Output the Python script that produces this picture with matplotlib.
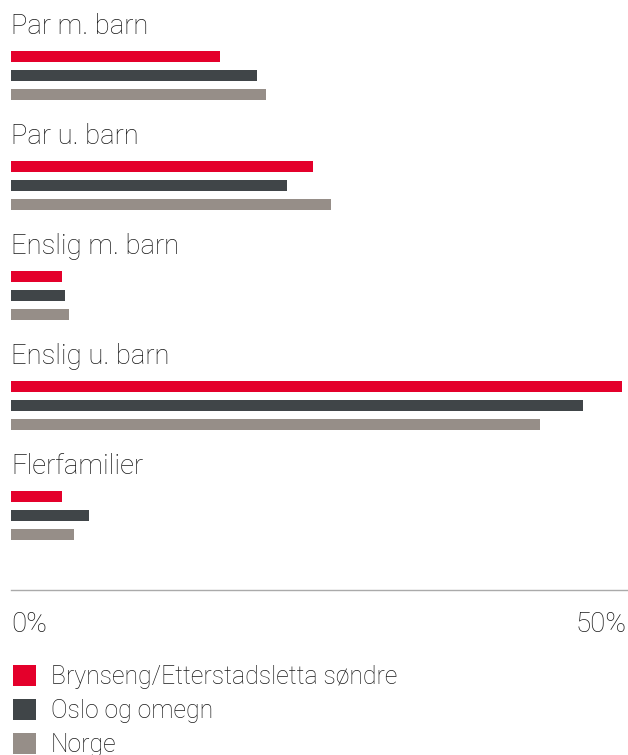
import numpy as np
import matplotlib
matplotlib.use("Agg")
from matplotlib import pyplot as plt
from matplotlib.patches import Patch
from matplotlib.transforms import blended_transform_factory

plt.rcParams["font.family"] = ["Roboto", "DejaVu Sans"]
plt.rcParams["font.weight"] = "light"

categories = ["Par m. barn", "Par u. barn", "Enslig m. barn", "Enslig u. barn", "Flerfamilier"]
series_names = ["Brynseng/Etterstadsletta søndre", "Oslo og omegn", "Norge"]
brynseng = [17.0, 24.5, 4.1, 49.6, 4.1]
oslo = [20.0, 22.4, 4.4, 46.4, 6.3]
norge = [20.7, 26.0, 4.7, 42.9, 5.1]
tick_values = [0, 50]
tick_labels = ["0%", "50%"]

colors = ["#e4002b", "#404548", "#968e88"]

W, H = 628, 755
fig = plt.figure(figsize=(W / 100, H / 100), dpi=100)
# axes from x=11..627 px, y=0..590 px (from top)
ax = fig.add_axes([11 / W, 1 - 590 / H, 616 / W, 590 / H])

group_step = 110.0
bar_h = 11.5
offsets = [56.5, 75.5, 94.5]
label_y = 34.0
y0 = np.arange(len(categories)) * group_step

for vals, off, c in zip([brynseng, oslo, norge], offsets, colors):
    ax.barh(y0 + off, vals, height=bar_h, color=c, left=0)

trans = blended_transform_factory(ax.transAxes, ax.transData)
for i, cat in enumerate(categories):
    ax.text(0, y0[i] + label_y, cat, transform=trans, fontsize=19.8,
            ha="left", va="baseline", color="#1a1a1a")

ax.set_xlim(0, 50)
ax.set_ylim(590, 0)
for s in ["top", "left", "right"]:
    ax.spines[s].set_visible(False)
ax.spines["bottom"].set_color("#aaaaaa")
ax.spines["bottom"].set_linewidth(1.0)
ax.set_yticks([])
ax.set_xticks(tick_values)
ax.set_xticklabels(tick_labels)
ax.tick_params(axis="x", length=0, pad=15, labelsize=20, labelcolor="#1a1a1a")
xl = ax.get_xticklabels()
xl[0].set_ha("left")
xl[-1].set_ha("right")

handles = [Patch(facecolor=c, edgecolor="none") for c in colors]
fig.legend(handles, series_names, loc="upper left",
           bbox_to_anchor=(3 / W, 1 - 655 / H), frameon=False,
           fontsize=17.8, handlelength=0.93, handleheight=0.93,
           handletextpad=0.6, labelspacing=0.4, borderaxespad=0,
           labelcolor="#1a1a1a")

fig.savefig("out.png", dpi=100)
